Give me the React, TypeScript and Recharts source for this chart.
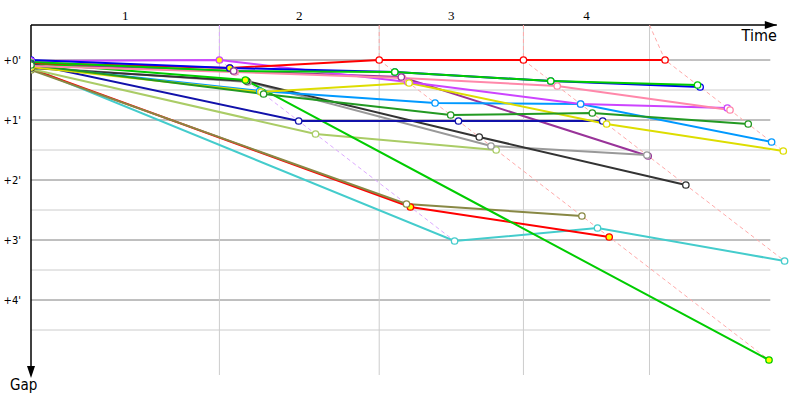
import React from 'react';
import { ScatterChart, Scatter, XAxis, YAxis, ReferenceLine, ReferenceDot } from 'recharts';

// Leader's cumulative time (s) at start and end of laps 1..4
const leaderLapTimes = [0, 145, 268, 379, 488];
// Lap boundary gridlines (s)
const lapGridTimes = [145, 268, 379, 476];
const lapLabels = ['1', '2', '3', '4'];
const gapTicks = [0, 60, 120, 180, 240];
const majorGridGaps = [0, 60, 120, 180, 240];
const minorGridGaps = [30, 90, 150, 210, 270];
const timeAxisEnd = 574;
const gridEndTime = 569;
const gapTop = -35;
const gapBottom = 315;

// Gap to leader (s): start, lap 1, lap 2, lap 3, lap 4 (null = lap not completed)
const cyanGaps = [8, 181, 168, 201, null];
const red2Gaps = [9, 147, 177, null, null];
const oliveGaps = [10, 144, 156, null, null];
const purpleGaps = [4, 11, 17, 96, null];
const lightGreenGaps = [9, 74, 90, null, null];
const grayGaps = [7, 22, 86, 95, null];
const blackGaps = [8, 21, 77, 125, null];
const green2Gaps = [3, 20, 300, null, null];
const navyGaps = [4, 61, 61, 61, null];
const lightBlueGaps = [6, 31, 43, 44, 82];
const yellowGaps = [7, 32, 23, 64, 91];
const darkGreenGaps = [5, 34, 55, 53, 64];
const magentaGaps = [1, 0, 22, 44, 48];
const pinkGaps = [6, 12, 18, 26, 50];
const redGaps = [3, 8, 0, 0, 0];
const blueGaps = [0, 8, 12, 21, 27];
const greenGaps = [2, 11, 12, 21, 25];

// Laps marked with a yellow dot
const magentaMarks = [1];
const blueMarks = [1];
const green2Marks = [1, 2];
const red2Marks = [1, 2];

const cars = [
  { name: 'cyan', color: '#44cccc', gaps: cyanGaps, marks: [] as number[] },
  { name: 'red2', color: '#ff0000', gaps: red2Gaps, marks: red2Marks },
  { name: 'olive', color: '#888844', gaps: oliveGaps, marks: [] as number[] },
  { name: 'purple', color: '#993399', gaps: purpleGaps, marks: [] as number[] },
  { name: 'lightgreen', color: '#aacc66', gaps: lightGreenGaps, marks: [] as number[] },
  { name: 'gray', color: '#999999', gaps: grayGaps, marks: [] as number[] },
  { name: 'black', color: '#333333', gaps: blackGaps, marks: [] as number[] },
  { name: 'green2', color: '#00cc00', gaps: green2Gaps, marks: green2Marks },
  { name: 'navy', color: '#1111aa', gaps: navyGaps, marks: [] as number[] },
  { name: 'lightblue', color: '#0099ff', gaps: lightBlueGaps, marks: [] as number[] },
  { name: 'yellow', color: '#dddd00', gaps: yellowGaps, marks: [] as number[] },
  { name: 'darkgreen', color: '#229922', gaps: darkGreenGaps, marks: [] as number[] },
  { name: 'magenta', color: '#cc44ff', gaps: magentaGaps, marks: magentaMarks },
  { name: 'pink', color: '#ff88aa', gaps: pinkGaps, marks: [] as number[] },
  { name: 'red', color: '#ff0000', gaps: redGaps, marks: [] as number[] },
  { name: 'blue', color: '#0000ee', gaps: blueGaps, marks: blueMarks },
  { name: 'green', color: '#00cc00', gaps: greenGaps, marks: [] as number[] },
];

// Drawing order of the lap markers (drawn after all lines)
const markerOrder = ['cyan', 'red2', 'olive', 'lightgreen', 'red', 'blue', 'green', 'magenta', 'pink', 'purple', 'gray', 'black', 'green2', 'navy', 'lightblue', 'yellow', 'darkgreen'];

type Pt = { t: number; g: number; mark?: boolean };

const carSeries = cars.map((c) => {
  const pts: Pt[] = [];
  c.gaps.forEach((g, i) => {
    if (g === null || g === undefined) return;
    pts.push({ t: i === 0 ? 0 : leaderLapTimes[i] + g, g, mark: c.marks.includes(i) });
  });
  return { ...c, pts };
});
const markerSeries = markerOrder.map((n) => carSeries.find((c) => c.name === n)!);

const lapLineColors = ['#ddaaff', '#ffaaaa', '#ffaaaa', '#ffaaaa'];
const lapLines = lapGridTimes.map((gt, idx) => {
  const lap = idx + 1;
  const pts: Pt[] = cars
    .filter((c) => c.gaps[lap] !== null && c.gaps[lap] !== undefined)
    .map((c) => ({ t: leaderLapTimes[lap] + (c.gaps[lap] as number), g: c.gaps[lap] as number }))
    .sort((a, b) => a.g - b.g);
  return { color: lapLineColors[idx], pts: [{ t: gt, g: gapTop }, ...pts] };
});

const lapMidTicks = lapGridTimes.map((t, i) => ((i === 0 ? 0 : lapGridTimes[i - 1]) + t) / 2);

const Empty = () => <g />;

const LapTick = (p: any) => (
  <text x={p.x} y={p.y - 3} textAnchor="middle" fontSize={13} fontFamily="'Liberation Serif', 'DejaVu Serif', serif" fill="#000">
    {lapLabels[p.index]}
  </text>
);

const GapTick = (p: any) => (
  <text x={p.x - 8} y={p.y + 4} textAnchor="end" fontSize={10} fontFamily="'DejaVu Sans', sans-serif" fill="#000">
    {`+${p.payload.value / 60}'`}
  </text>
);

const sans = "'DejaVu Sans Condensed', 'Liberation Sans Narrow', 'Liberation Sans', Arial, sans-serif";

export default function App() {
  return (
    <div style={{ position: 'absolute', left: 0, top: 0, width: 800, height: 400, background: '#fff' }}>
      <ScatterChart width={800} height={400} margin={{ top: 0, right: 5, bottom: 25, left: 0 }}>
        <XAxis
          dataKey="t"
          type="number"
          orientation="top"
          height={25}
          domain={[0, 588]}
          allowDataOverflow
          axisLine={false}
          tickLine={false}
          tickSize={0}
          ticks={lapMidTicks}
          interval={0}
          tick={<LapTick />}
        />
        <YAxis
          dataKey="g"
          type="number"
          reversed
          width={31}
          domain={[gapTop, gapBottom]}
          allowDataOverflow
          axisLine={{ stroke: '#000', strokeWidth: 1.5 }}
          tickLine={false}
          tickSize={0}
          ticks={gapTicks}
          interval={0}
          tick={<GapTick />}
        />
        {minorGridGaps.map((g) => (
          <ReferenceLine key={'mi' + g} segment={[{ x: 0, y: g }, { x: gridEndTime, y: g }]} stroke="#cccccc" strokeWidth={1} ifOverflow="visible" />
        ))}
        {majorGridGaps.map((g) => (
          <ReferenceLine key={'ma' + g} segment={[{ x: 0, y: g }, { x: gridEndTime, y: g }]} stroke="#808080" strokeWidth={1} ifOverflow="visible" />
        ))}
        {lapGridTimes.map((t) => (
          <ReferenceLine key={'v' + t} x={t} stroke="#cccccc" strokeWidth={1} />
        ))}
        {lapLines.map((l, i) => (
          <Scatter
            key={'lap' + i}
            data={l.pts}
            line={{ stroke: l.color, strokeWidth: 1, strokeDasharray: '4 3' }}
            shape={Empty}
            isAnimationActive={false}
          />
        ))}
        {carSeries.map((c) => (
          <Scatter
            key={'line-' + c.name}
            data={c.pts}
            line={{ stroke: c.color, strokeWidth: 2 }}
            shape={Empty}
            isAnimationActive={false}
          />
        ))}
        {markerSeries.map((c) => (
          <Scatter
            key={'dot-' + c.name}
            data={c.pts}
            isAnimationActive={false}
            shape={(p: any) => (
              <circle cx={p.cx} cy={p.cy} r={3.2} fill={p.payload && p.payload.mark ? '#ffff00' : '#ffffff'} stroke={c.color} strokeWidth={1.3} />
            )}
          />
        ))}
        <ReferenceLine segment={[{ x: 0, y: gapTop }, { x: timeAxisEnd, y: gapTop }]} stroke="#000" strokeWidth={1.5} ifOverflow="visible" />
        <ReferenceDot
          x={timeAxisEnd}
          y={gapTop}
          ifOverflow="visible"
          shape={(p: any) => (
            <g>
              <path d={`M${p.cx},${p.cy} L${p.cx - 12},${p.cy - 4} L${p.cx - 12},${p.cy + 4} Z`} fill="#000" />
              <text x={p.cx} y={p.cy + 16} textAnchor="end" fontSize={16} fontFamily={sans} fill="#000">Time</text>
            </g>
          )}
        />
        <ReferenceDot
          x={0}
          y={gapBottom}
          ifOverflow="visible"
          shape={(p: any) => (
            <g>
              <path d={`M${p.cx},${p.cy + 3} L${p.cx - 4},${p.cy - 9} L${p.cx + 4},${p.cy - 9} Z`} fill="#000" />
              <text x={p.cx - 21} y={p.cy + 15} fontSize={15} fontFamily={sans} fill="#000">Gap</text>
            </g>
          )}
        />
      </ScatterChart>
    </div>
  );
}
